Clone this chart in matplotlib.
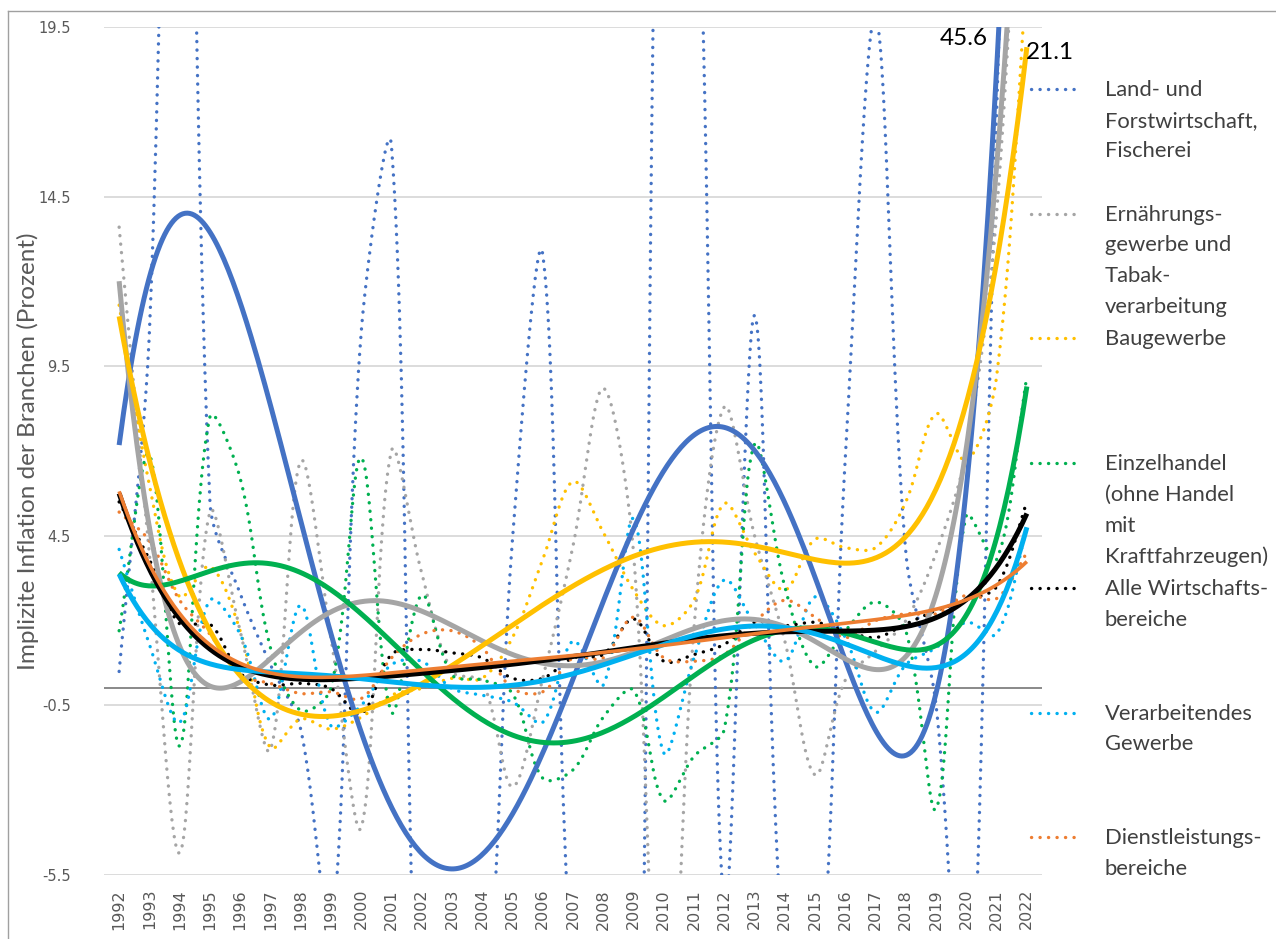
import numpy as np
import matplotlib
matplotlib.use("Agg")
import matplotlib.pyplot as plt
from matplotlib.lines import Line2D

# ---- data -------------------------------------------------------------
years = list(range(1992, 2023))

land_forst = [0.5, 10.5, 42.0, 5.5, 2.8, 0.7, -1.2, -7.3, 10.5, 16.0,
              -13.0, -7.5, -10.4, 4.4, 12.8, -9.0, -12.0, -20.0, 34.0, 28.0,
              -6.5, 11.0, -8.5, -10.5, 6.8, 19.8, 4.0, -0.5, -12.0, 17.0, 45.6]
ernaehrung = [13.6, 4.0, -4.85, 5.2, 1.7, -1.8, 6.7, 1.5, -4.1, 7.0,
              3.4, 0.5, 0.2, -2.9, 0.3, 4.2, 8.85, 4.0, -13.8, 1.8,
              8.3, 4.5, 1.4, -2.55, 0.25, 1.1, 2.0, 4.0, 7.0, 14.0, 30.0]
baugewerbe = [11.3, 6.0, 2.7, 3.6, 1.7, -1.75, -0.9, -1.2, -0.85, -0.2,
              0.0, 0.3, 0.3, 1.5, 3.8, 6.1, 4.6, 2.9, 1.85, 2.6,
              5.45, 4.0, 2.9, 4.4, 4.15, 4.15, 5.5, 8.1, 6.7, 9.2, 21.1]
einzelhandel = [1.7, 6.9, -1.7, 8.0, 6.2, 1.2, -0.65, 0.0, 6.8, -0.7,
                2.75, 0.4, 0.25, -0.15, -2.65, -2.4, -0.85, -0.05, -3.3, -2.0,
                -1.2, 7.2, 3.0, 0.65, 1.7, 2.55, 1.7, -3.55, 5.1, 3.8, 9.2]
alle = [5.5, 3.8, 1.9, 1.9, 0.45, 0.1, 0.15, 0.0, -0.75, 1.0,
        1.15, 1.05, 0.9, 0.3, 0.3, 0.9, 1.0, 2.05, 0.8, 1.0,
        1.3, 1.95, 1.85, 1.95, 1.7, 1.5, 1.9, 2.3, 2.6, 3.0, 5.5]
verarbeitend = [4.1, 1.3, -1.0, 2.6, 1.6, -0.9, 2.45, -1.1, -0.5, 0.7,
                0.8, 0.0, -0.2, -0.4, -1.0, 1.4, 0.1, 5.0, -1.9, 0.9,
                3.2, 1.9, 0.8, 2.7, 1.5, -0.7, 0.7, 1.2, 1.95, 1.6, 4.75]
dienstleistung = [5.2, 4.35, 2.6, 1.6, 0.4, 0.15, -0.15, -0.1, -0.3, 0.9,
                  1.6, 1.7, 1.2, 0.0, -0.1, 0.9, 0.9, 2.1, 0.9, 0.8,
                  1.0, 1.95, 2.6, 2.1, 1.5, 2.0, 2.2, 2.2, 2.75, 2.65, 4.0]

series = [
    ("Land- und\nForstwirtschaft,\nFischerei", land_forst, "#4472C4"),
    ("Ernährungs-\ngewerbe und\nTabak-\nverarbeitung", ernaehrung, "#A5A5A5"),
    ("Baugewerbe", baugewerbe, "#FFC000"),
    ("Einzelhandel\n(ohne Handel\nmit\nKraftfahrzeugen)", einzelhandel, "#00B050"),
    ("Alle Wirtschafts-\nbereiche", alle, "#000000"),
    ("Verarbeitendes\nGewerbe", verarbeitend, "#00B0F0"),
    ("Dienstleistungs-\nbereiche", dienstleistung, "#ED7D31"),
]

value_labels = [("45.6", 2019.9, 19.15), ("21.1", 2022.76, 18.75)]

y_ticks = [-5.5, -0.5, 4.5, 9.5, 14.5, 19.5]
y_title = "Implizite Inflation der Branchen (Prozent)"

W, H = 1276, 939
AX_L, AX_R, AX_T, AX_B = 104, 1042, 27, 875
PX_X = (AX_R - AX_L) / 31.0      # pixels per year
PX_Y = (AX_B - AX_T) / 25.0      # pixels per percentage point


def smooth(x, y, n=30):
    """Smoothed line: cubic Bezier segments whose handles are scaled by the
    neighbouring segment lengths (measured in pixels)."""
    P = np.column_stack([np.asarray(x, float) * PX_X, np.asarray(y, float) * PX_Y])
    m = len(P)
    t = np.linspace(0, 1, n, endpoint=False)[:, None]
    out = []
    for i in range(m - 1):
        p0 = P[i - 1] if i > 0 else P[i]
        p1, p2 = P[i], P[i + 1]
        p3 = P[i + 2] if i + 2 < m else P[i + 1]
        d01 = np.hypot(*(p1 - p0))
        d12 = np.hypot(*(p2 - p1))
        d23 = np.hypot(*(p3 - p2))
        f1 = d12 / (d01 + d12) if d01 + d12 > 0 else 0.0
        f2 = d12 / (d12 + d23) if d12 + d23 > 0 else 0.0
        c1 = p1 + (p2 - p0) * f1 / 3.0
        c2 = p2 - (p3 - p1) * f2 / 3.0
        seg = ((1 - t) ** 3) * p1 + 3 * ((1 - t) ** 2) * t * c1 \
            + 3 * (1 - t) * t ** 2 * c2 + t ** 3 * p2
        out.append(seg)
    out.append(P[-1:])
    out = np.vstack(out)
    return out[:, 0] / PX_X, out[:, 1] / PX_Y


# ---- figure -----------------------------------------------------------
fig = plt.figure(figsize=(W / 100, H / 100), dpi=100)
ax = fig.add_axes([AX_L / W, 1 - AX_B / H, (AX_R - AX_L) / W, (AX_B - AX_T) / H])

ax.set_xlim(1991.5, 2022.5)
ax.set_ylim(-5.5, 19.5)
ax.set_yticks(y_ticks)
ax.set_yticklabels([f"{v:.1f}" for v in y_ticks])
ax.set_xticks(years)
ax.set_xticklabels([str(y) for y in years], rotation=90)
ax.tick_params(axis="both", length=0, labelcolor="#595959")
ax.tick_params(axis="y", pad=24, labelsize=10.5)
ax.tick_params(axis="x", pad=10, labelsize=11.5)
for lab in ax.get_xticklabels() + ax.get_yticklabels():
    lab.set_family("DejaVu Sans")
for s in ax.spines.values():
    s.set_visible(False)
ax.yaxis.grid(True, color="#D9D9D9", lw=1.3)
ax.set_axisbelow(True)
ax.axhline(0, color="#898989", lw=1.4, zorder=1)

dot_style = (0, (0.05, 2.5))
xi = np.array(years, float)
xfit = np.linspace(1, len(years), 400)

# smoothed dotted data lines
for k, (name, vals, col) in enumerate(series):
    sx, sy = smooth(xi, vals)
    ax.plot(sx, sy, color=col, lw=2.4, linestyle=dot_style,
            dash_capstyle="round", zorder=2 + k * 0.01)

# 6th order polynomial trend lines
for k, (name, vals, col) in enumerate(series):
    coef = np.polyfit(np.arange(1, len(vals) + 1), vals, 6)
    lw = 2.6 if col == "#ED7D31" else 3.6
    ax.plot(1991 + xfit, np.polyval(coef, xfit), color=col, lw=lw,
            solid_capstyle="butt", zorder=3 + k * 0.01)

for txt, xv, yv in value_labels:
    ax.text(xv, yv, txt, fontsize=17.5, family="Lato", color="#000000",
            ha="center", va="center", zorder=5, clip_on=False)

ax.set_ylabel(y_title, fontsize=17.5, family="Lato", color="#595959")
ax.yaxis.set_label_coords(-(AX_L - 39) / (AX_R - AX_L), 0.5)

# legend (dotted samples with wrapped labels)
for k, (name, vals, col) in enumerate(series):
    yc = 1 - (89 + 124.7 * k) / H
    fig.add_artist(Line2D([1031 / W, 1076 / W], [yc, yc], color=col, lw=2.4,
                          linestyle=dot_style, dash_capstyle="round",
                          transform=fig.transFigure))
    fig.text(1105 / W, yc + 9 / H, name, fontsize=15.8, family="Lato",
             color="#404040", ha="left", va="top", linespacing=1.67)

# chart frame
fig.add_artist(Line2D([7.5 / W, 7.5 / W], [0, 1 - 11 / H], color="#A0A0A0",
                      lw=1.0, transform=fig.transFigure))
fig.add_artist(Line2D([7.5 / W, 1], [1 - 11 / H, 1 - 11 / H], color="#A0A0A0",
                      lw=1.0, transform=fig.transFigure))

fig.savefig("out.png", dpi=100)
